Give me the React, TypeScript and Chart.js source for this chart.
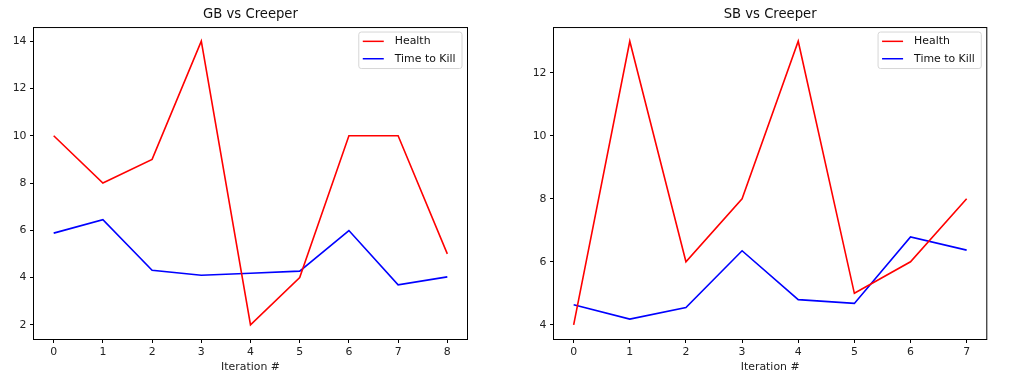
import React, { useEffect, useRef } from "react";
import { Chart, registerables } from "chart.js";

Chart.register(...registerables);

// ---- Data ----
const gbTitle = "GB vs Creeper";
const gbIterations = [0, 1, 2, 3, 4, 5, 6, 7, 8];
const gbHealth = [10, 8, 9, 14, 2, 4, 10, 10, 5];
const gbTimeToKill = [5.88, 6.45, 4.31, 4.1, 4.18, 4.27, 5.99, 3.69, 4.03];
const gbYTicks = [2, 4, 6, 8, 10, 12, 14];

const sbTitle = "SB vs Creeper";
const sbIterations = [0, 1, 2, 3, 4, 5, 6, 7];
const sbHealth = [4, 13, 6, 8, 13, 5, 6, 8];
const sbTimeToKill = [4.64, 4.18, 4.55, 6.35, 4.8, 4.68, 6.79, 6.37];
const sbYTicks = [4, 6, 8, 10, 12];

const seriesLabels = ["Health", "Time to Kill"];
const seriesColors = ["#ff0000", "#0000ff"];
const xAxisTitle = "Iteration #";

const FONT = "'DejaVu Sans', sans-serif";
const TICK_SIZE = 10.9;

const frameAndLegend = {
  id: "frameAndLegend",
  afterDraw(chart: any) {
    const { ctx, chartArea } = chart;
    const { left, top, right, bottom } = chartArea;
    ctx.save();
    // spines
    ctx.strokeStyle = "#000";
    ctx.lineWidth = 1;
    ctx.strokeRect(left - 0.5, top + 0.5, right - left + 1, bottom - top);
    // legend
    ctx.font = `${TICK_SIZE}px ${FONT}`;
    const ds = chart.data.datasets;
    let maxW = 0;
    ds.forEach((d: any) => {
      maxW = Math.max(maxW, ctx.measureText(d.label).width);
    });
    const w = 36 + maxW + 6.5;
    const h = 36.5;
    const x0 = right - 5 - w;
    const y0 = top + 5;
    const r = 2.5;
    ctx.beginPath();
    ctx.moveTo(x0 + r, y0);
    ctx.lineTo(x0 + w - r, y0);
    ctx.arcTo(x0 + w, y0, x0 + w, y0 + r, r);
    ctx.lineTo(x0 + w, y0 + h - r);
    ctx.arcTo(x0 + w, y0 + h, x0 + w - r, y0 + h, r);
    ctx.lineTo(x0 + r, y0 + h);
    ctx.arcTo(x0, y0 + h, x0, y0 + h - r, r);
    ctx.lineTo(x0, y0 + r);
    ctx.arcTo(x0, y0, x0 + r, y0, r);
    ctx.closePath();
    ctx.fillStyle = "rgba(255,255,255,0.8)";
    ctx.fill();
    ctx.strokeStyle = "#d6d6d6";
    ctx.lineWidth = 1;
    ctx.stroke();
    ds.forEach((d: any, i: number) => {
      const cy = y0 + 9.3 + i * 17.4;
      ctx.strokeStyle = d.borderColor;
      ctx.lineWidth = 1.5;
      ctx.beginPath();
      ctx.moveTo(x0 + 4, cy);
      ctx.lineTo(x0 + 25, cy);
      ctx.stroke();
      ctx.fillStyle = "#111";
      ctx.textBaseline = "middle";
      ctx.textAlign = "left";
      ctx.fillText(d.label, x0 + 36, cy);
    });
    ctx.restore();
  },
};

function margin(vals: number[]) {
  const lo = Math.min(...vals);
  const hi = Math.max(...vals);
  const m = (hi - lo) * 0.05;
  return [lo - m, hi + m];
}

function makeConfig(
  title: string,
  iterations: number[],
  health: number[],
  ttk: number[],
  yTicks: number[],
  yAxisWidth: number,
  padRight: number
) {
  const [xMin, xMax] = margin(iterations);
  const [yMin, yMax] = margin([...health, ...ttk]);
  const series = [health, ttk];
  return {
    type: "line" as const,
    data: {
      datasets: series.map((vals, s) => ({
        label: seriesLabels[s],
        data: iterations.map((it, i) => ({ x: it, y: vals[i] })),
        borderColor: seriesColors[s],
        backgroundColor: seriesColors[s],
        borderWidth: 1.6,
        pointRadius: 0,
        tension: 0,
        fill: false,
      })),
    },
    options: {
      responsive: false,
      animation: false as const,
      layout: { padding: { left: 0, right: padRight, top: 0, bottom: 0 } },
      plugins: {
        legend: { display: false },
        tooltip: { enabled: false },
        title: {
          display: true,
          text: title,
          fullSize: false,
          color: "#111",
          font: { family: FONT, size: 13.2, weight: "normal" as const, lineHeight: 1.2 },
          padding: { top: 7.1, bottom: 4.1 },
        },
      },
      scales: {
        x: {
          type: "linear" as const,
          min: xMin,
          max: xMax,
          border: { display: false },
          grid: {
            drawOnChartArea: false,
            drawTicks: true,
            tickLength: 4,
            color: "#000",
            lineWidth: 1,
          },
          ticks: {
            color: "#222",
            padding: 2.5,
            maxRotation: 0,
            font: { family: FONT, size: TICK_SIZE },
          },
          afterBuildTicks: (scale: any) => {
            scale.ticks = iterations.map((v) => ({ value: v }));
          },
          afterFit: (scale: any) => {
            scale.height = 38;
          },
          title: {
            display: true,
            text: xAxisTitle,
            color: "#222",
            font: { family: FONT, size: TICK_SIZE },
            padding: { top: 0, bottom: 3.7 },
          },
        },
        y: {
          type: "linear" as const,
          min: yMin,
          max: yMax,
          border: { display: false },
          grid: {
            drawOnChartArea: false,
            drawTicks: true,
            tickLength: 4,
            color: "#000",
            lineWidth: 1,
          },
          ticks: {
            color: "#222",
            padding: 3.5,
            font: { family: FONT, size: TICK_SIZE },
          },
          afterBuildTicks: (scale: any) => {
            scale.ticks = yTicks.map((v) => ({ value: v }));
          },
          afterFit: (scale: any) => {
            scale.width = yAxisWidth;
          },
        },
      },
    },
    plugins: [frameAndLegend],
  };
}

function SubChart(props: { left: number; config: any }) {
  const ref = useRef<HTMLCanvasElement | null>(null);
  useEffect(() => {
    if (!ref.current) return;
    const chart = new Chart(ref.current, props.config);
    return () => chart.destroy();
  }, []);
  return (
    <canvas
      ref={ref}
      width={517}
      height={377}
      style={{ position: "absolute", left: props.left, top: 0, width: 517, height: 377 }}
    />
  );
}

export default function App() {
  const gbConfig = makeConfig(gbTitle, gbIterations, gbHealth, gbTimeToKill, gbYTicks, 34, 50);
  const sbConfig = makeConfig(sbTitle, sbIterations, sbHealth, sbTimeToKill, sbYTicks, 37, 47.7);
  return (
    <div
      style={{
        position: "absolute",
        left: 0,
        top: 0,
        width: 1034,
        height: 377,
        background: "#fff",
        overflow: "hidden",
      }}
    >
      <SubChart left={0} config={gbConfig} />
      <SubChart left={517} config={sbConfig} />
    </div>
  );
}
